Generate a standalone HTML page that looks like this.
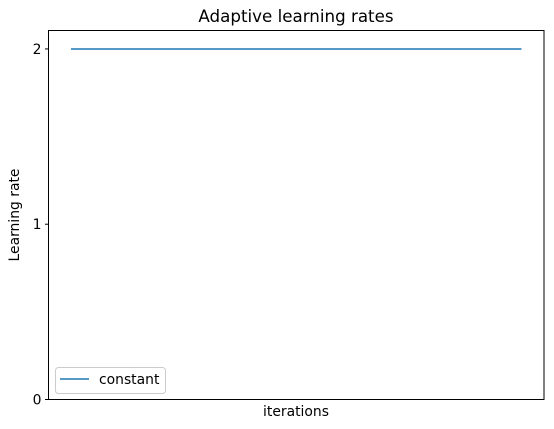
<!DOCTYPE html>
<html><head><meta charset="utf-8"><style>
body{margin:0;background:#fff;}
svg{display:block;font-family:"DejaVu Sans","Liberation Sans",sans-serif;}
</style></head><body>
<svg id="chart" width="554" height="429" xmlns="http://www.w3.org/2000/svg">
<rect width="554" height="429" fill="#fff"/>
<text x="296" y="22" font-size="16.7" text-anchor="middle">Adaptive learning rates</text>
<g id="plot"></g>
<rect x="48.5" y="30.5" width="495.5" height="369" fill="none" stroke="#000" stroke-width="1"/>
<text x="296" y="416" font-size="13.9" text-anchor="middle">iterations</text>
<text transform="translate(19,215) rotate(-90)" font-size="13.9" text-anchor="middle">Learning rate</text>
<g>
<rect x="55.5" y="367.5" width="110" height="26" rx="3" fill="#fff" fill-opacity="0.8" stroke="#ccc"/>
<line x1="60" y1="379" x2="89" y2="379" stroke="#1f77b4" stroke-width="1.5"/>
<text x="99" y="384" font-size="13.9">constant</text>
</g>
</svg>
<script>
const iterations = [0, 1, 2, 3, 4, 5, 6, 7, 8, 9, 10];
const constantRate = [2, 2, 2, 2, 2, 2, 2, 2, 2, 2, 2];
const yTicks = [0, 1, 2];
const yTickLabels = ["0", "1", "2"];

const L = 48.5, R = 544, T = 30.5, B = 399.5;
const xMin = iterations[0], xMax = iterations[iterations.length - 1];
const xPad = (xMax - xMin) * 0.05;
const yMax = Math.max(...constantRate) * 1.0526;
const xs = v => L + (v - (xMin - xPad)) / ((xMax + xPad) - (xMin - xPad)) * (R - L);
const ys = v => B - (v - 0) / (yMax - 0) * (B - T);
const ns = "http://www.w3.org/2000/svg";
const g = document.getElementById('plot');

yTicks.forEach((t, i) => {
  const y = ys(t);
  const tk = document.createElementNS(ns, 'line');
  tk.setAttribute('x1', L - 3.5); tk.setAttribute('x2', L);
  tk.setAttribute('y1', y); tk.setAttribute('y2', y);
  tk.setAttribute('stroke', '#000');
  
  
  g.appendChild(tk);
  const lb = document.createElementNS(ns, 'text');
  lb.setAttribute('x', L - 7); lb.setAttribute('y', y + 5);
  lb.setAttribute('font-size', '13.9'); lb.setAttribute('text-anchor', 'end');
  lb.textContent = yTickLabels[i];
  
  
  g.appendChild(lb);
});

const pl = document.createElementNS(ns, 'polyline');
pl.setAttribute('points', iterations.map((x, i) => xs(x) + ',' + ys(constantRate[i])).join(' '));
pl.setAttribute('fill', 'none');
pl.setAttribute('stroke', '#1f77b4');
pl.setAttribute('stroke-width', '1.5');


g.appendChild(pl);
</script>
</body></html>
